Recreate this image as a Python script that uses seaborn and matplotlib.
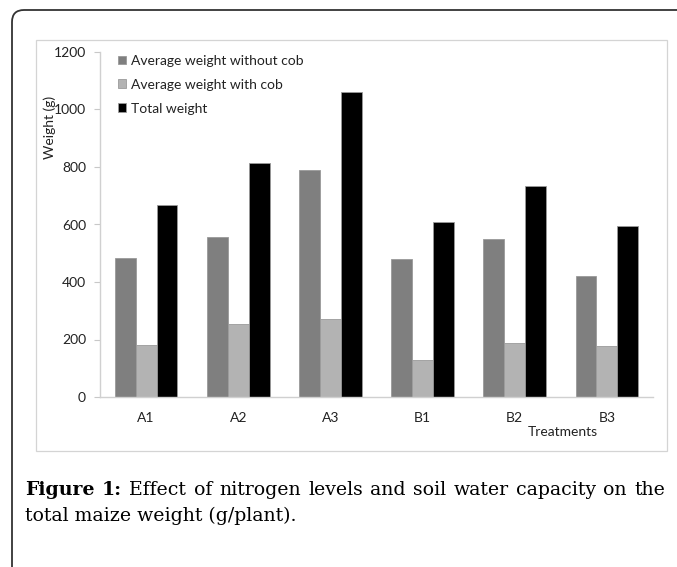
import matplotlib
matplotlib.use("Agg")
import matplotlib.pyplot as plt
import seaborn as sns
import pandas as pd
from matplotlib.patches import FancyBboxPatch, Rectangle
from matplotlib.transforms import IdentityTransform

treatments = ["A1", "A2", "A3", "B1", "B2", "B3"]
series_names = ["Average weight without cob", "Average weight with cob", "Total weight"]
without_cob = [485, 557, 790, 480, 548, 420]
with_cob = [180, 254, 271, 130, 188, 177]
total_weight = [668, 814, 1061, 610, 735, 595]
colors = ["#7f7f7f", "#b3b3b3", "#000000"]

rows = []
for name, vals in zip(series_names, [without_cob, with_cob, total_weight]):
    for t, v in zip(treatments, vals):
        rows.append({"Treatment": t, "Series": name, "Weight": v})
df = pd.DataFrame(rows)

W, H = 677, 567
sns.set_theme(style="white")
plt.rcParams["font.family"] = ["Lato", "DejaVu Sans"]

fig = plt.figure(figsize=(W / 100, H / 100), dpi=100)
fig.patch.set_facecolor("white")

def px(x0, y0, x1, y1):
    return [x0 / W, 1 - y1 / H, (x1 - x0) / W, (y1 - y0) / H]

ax = fig.add_axes(px(100, 52, 653, 397))
sns.barplot(data=df, x="Treatment", y="Weight", hue="Series", order=treatments,
            hue_order=series_names, palette=colors, width=0.68, ax=ax,
            edgecolor="#9a9a9a", linewidth=0.6, saturation=1)

fsz = 10
ax.set_ylim(0, 1200)
ax.set_yticks(range(0, 1201, 200))
ax.set_xlabel("")
ax.set_ylabel("")
for s in ["top", "right"]:
    ax.spines[s].set_visible(False)
for s in ["left", "bottom"]:
    ax.spines[s].set_color("#d0d0d0")
    ax.spines[s].set_linewidth(1.0)
ax.tick_params(axis="y", length=4, color="#c8c8c8", width=0.8, pad=6,
               labelsize=fsz, labelcolor="#222222", left=True)
ax.tick_params(axis="x", length=0, pad=11, labelsize=fsz, labelcolor="#222222")

leg = ax.legend(loc="upper left", bbox_to_anchor=(0.01, 1.028), frameon=False,
                fontsize=fsz, handlelength=0.6, handleheight=0.6,
                handletextpad=0.35, labelspacing=0.86)
for t in leg.get_texts():
    t.set_color("#222222")

ax.text((563 - 100) / 553, (397 - 432) / 345, "Treatments", transform=ax.transAxes,
        ha="center", va="center", fontsize=fsz, color="#222222")
fig.text(50 / W, 1 - 127 / H, "Weight (g)", rotation=90, ha="center", va="center",
         fontsize=fsz, color="#222222")

fig.patches.append(Rectangle((36, H - 451), 631, 411, transform=IdentityTransform(),
                             fill=False, edgecolor="#d4d4d4", linewidth=0.9))
fig.patches.append(FancyBboxPatch((12, -50), 800, H - 10 + 50, transform=IdentityTransform(),
                                  boxstyle="round,pad=0,rounding_size=12",
                                  fill=False, edgecolor="#333333", linewidth=1.3))

serif = ["DejaVu Serif"]
fs = 13.6
renderer = fig.canvas.get_renderer()
line1 = [("Figure", "bold"), ("1:", "bold"), ("Effect", "normal"), ("of", "normal"),
         ("nitrogen", "normal"), ("levels", "normal"), ("and", "normal"), ("soil", "normal"),
         ("water", "normal"), ("capacity", "normal"), ("on", "normal"), ("the", "normal")]
x_left, x_right = 25, 665
texts = []
widths = []
for w, wt in line1:
    t = fig.text(0, 0, w, fontsize=fs, family=serif, weight=wt, color="black",
                 transform=IdentityTransform(), ha="left", va="baseline")
    bb = t.get_window_extent(renderer=renderer)
    texts.append(t)
    widths.append(bb.width)
gap = (x_right - x_left - sum(widths)) / (len(widths) - 1)
x = x_left
for t, wd in zip(texts, widths):
    t.set_position((x, H - 495))
    x += wd + gap

fig.text(x_left, H - 521, "total maize weight (g/plant).", fontsize=fs, family=serif,
         color="black", transform=IdentityTransform(), ha="left", va="baseline")

fig.savefig("out.png", dpi=100)
